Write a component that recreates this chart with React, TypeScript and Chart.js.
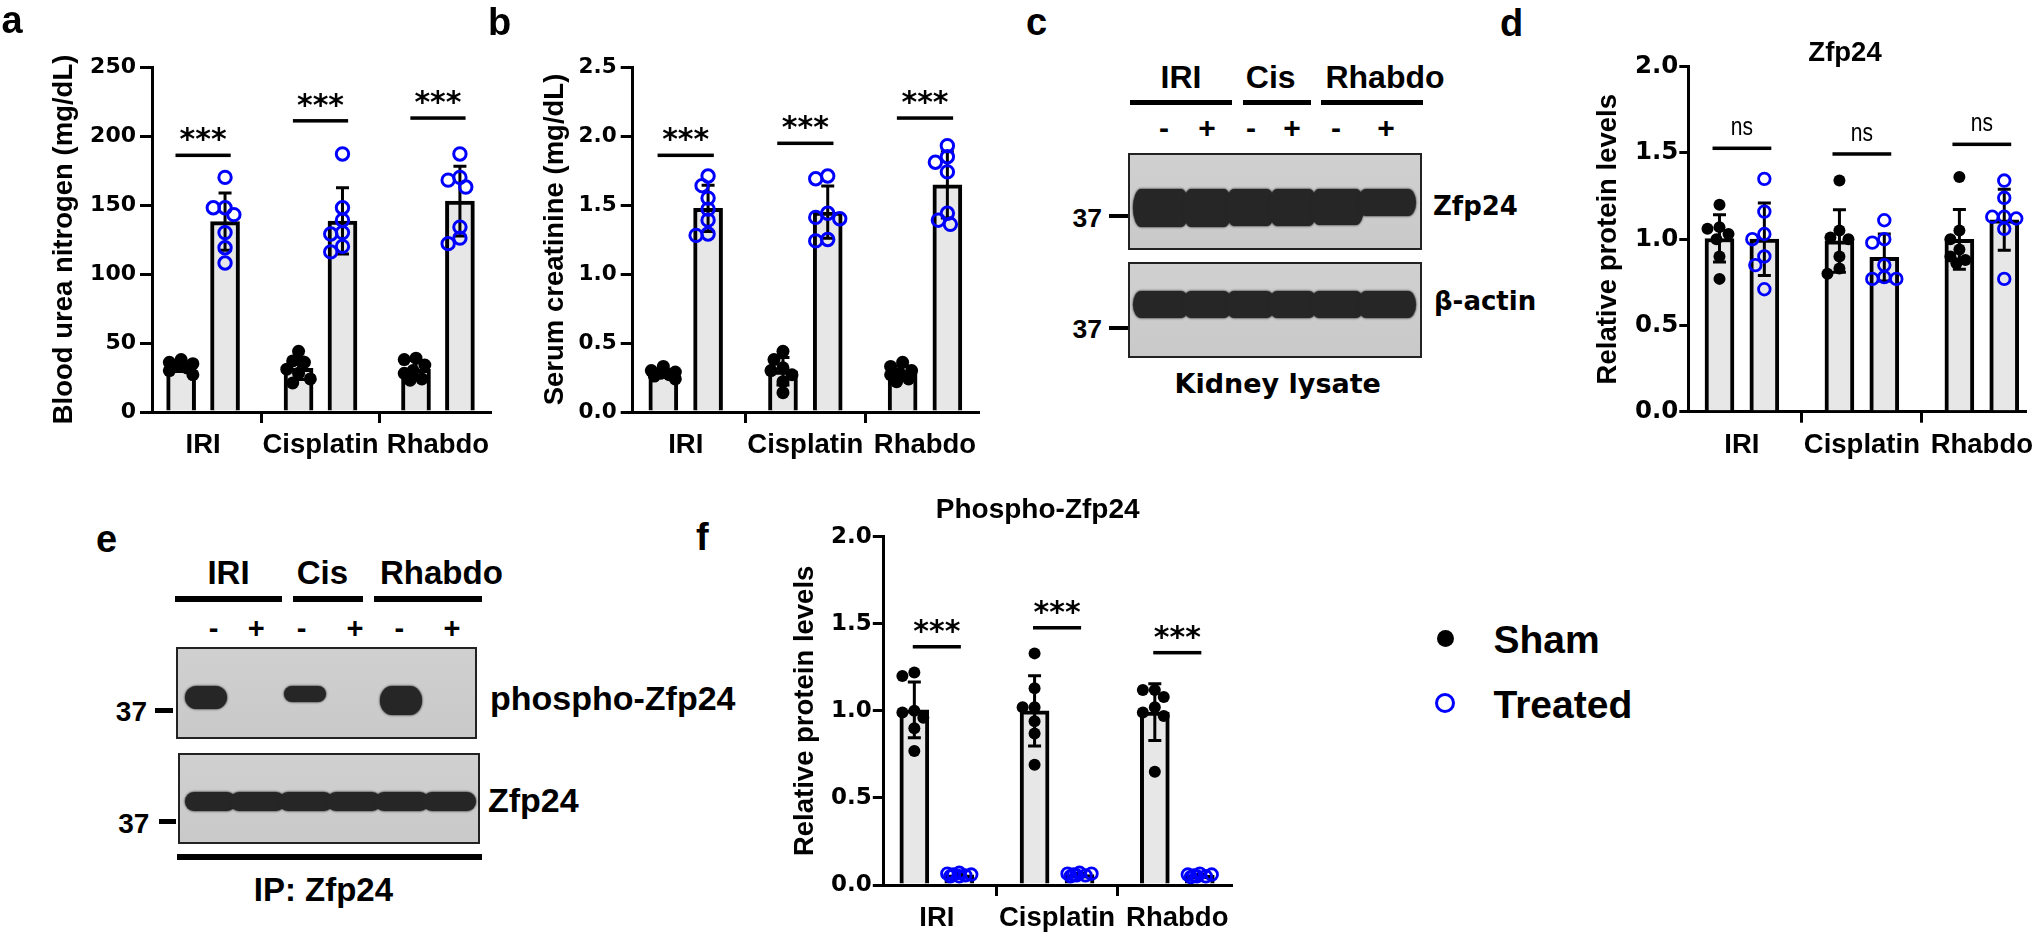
import React, { useEffect, useRef } from 'react';
import { Chart, registerables } from 'chart.js';

Chart.register(...registerables);

// ---------------- data ----------------
const categories = ['IRI', 'Cisplatin', 'Rhabdo'];
const seriesNames = ['Sham', 'Treated'];

// a: Blood urea nitrogen (mg/dL)
const bunSham = [
  [38, 36, 35, 33, 32, 30, 27],
  [44, 37, 36, 31, 28, 24, 21],
  [39, 38, 34, 30, 28, 24, 23],
];
const bunTreated = [
  [170, 148, 148, 143, 130, 119, 108],
  [187, 148, 139, 130, 129, 120, 116],
  [187, 170, 168, 163, 134, 126, 122],
];
const bunSig = [186, 211, 213];
const bunTicks = [0, 50, 100, 150, 200, 250];

// b: Serum creatinine (mg/dL)
const creatSham = [
  [0.33, 0.3, 0.29, 0.28, 0.27, 0.26, 0.24],
  [0.44, 0.38, 0.32, 0.3, 0.27, 0.22, 0.14],
  [0.36, 0.33, 0.3, 0.28, 0.27, 0.24, 0.22],
];
const creatTreated = [
  [1.71, 1.64, 1.55, 1.47, 1.39, 1.29, 1.28],
  [1.71, 1.69, 1.44, 1.41, 1.4, 1.25, 1.24],
  [1.93, 1.85, 1.81, 1.74, 1.44, 1.39, 1.36],
];
const creatSig = [1.86, 1.947, 2.13];
const creatTicks = [0, 0.5, 1, 1.5, 2, 2.5];

// d: Zfp24 relative protein levels
const zfpSham = [
  [1.2, 1.07, 1.06, 1.03, 1.0, 0.9, 0.77],
  [1.34, 1.05, 1.01, 1.0, 0.9, 0.83, 0.8],
  [1.36, 1.05, 1.0, 0.94, 0.9, 0.88, 0.86],
];
const zfpTreated = [
  [1.35, 1.16, 1.03, 1.0, 0.9, 0.85, 0.71],
  [1.11, 1.0, 0.98, 0.85, 0.78, 0.77, 0.77],
  [1.34, 1.24, 1.13, 1.13, 1.12, 1.06, 0.77],
];
const zfpSig = [1.527, 1.494, 1.55];

// f: Phospho-Zfp24 relative protein levels
const phosSham = [
  [1.22, 1.2, 1.0, 0.99, 0.96, 0.9, 0.77],
  [1.33, 1.13, 1.02, 1.02, 0.94, 0.87, 0.69],
  [1.12, 1.12, 1.08, 1.02, 0.99, 0.97, 0.65],
];
const phosTreated = [
  [0.07, 0.065, 0.06, 0.06, 0.055, 0.05, 0.05],
  [0.07, 0.065, 0.065, 0.06, 0.055, 0.055, 0.05],
  [0.065, 0.06, 0.06, 0.055, 0.05, 0.05, 0.045],
];
const phosSig = [1.368, 1.477, 1.334];
const relTicks = [0, 0.5, 1, 1.5, 2];

// western blots (relative band strength per lane)
const blotGroups = ['IRI', 'Cis', 'Rhabdo'];
const laneSigns = ['-', '+', '-', '+', '-', '+'];
const lysateZfp24 = [1, 1, 0.97, 0.97, 0.95, 0.72];
const lysateActin = [1, 1, 1, 1, 1, 1];
const ipPhospho = [1.05, 0, 0.75, 0, 1.3, 0];
const ipZfp24 = [1, 1, 1, 1, 1, 1];

// ---------------- helpers ----------------
const LIB = '"Liberation Sans", Arial, sans-serif';
const DJV = '"DejaVu Sans", sans-serif';
const BLUE = '#0000ff';
const BAR_OFF = 0.187;
const CAP = 6.5;

const mean = (a: number[]) => a.reduce((s, v) => s + v, 0) / a.length;
const sd = (a: number[]) => {
  const m = mean(a);
  return Math.sqrt(a.reduce((s, v) => s + (v - m) * (v - m), 0) / (a.length - 1));
};

function swarm(values: number[], pxY: number, minDist = 11, maxOff = 13, step = 3): number[] {
  const order = values.map((_, i) => i).sort((a, b) => values[b] - values[a]);
  const cands = [0];
  for (let k = step; k <= maxOff + 1e-9; k += step) cands.push(-k, k);
  const placed: { x: number; y: number }[] = [];
  const out = new Array(values.length).fill(0);
  for (const idx of order) {
    const yy = values[idx] * pxY;
    let best = 0;
    let bestScore = -Infinity;
    for (const c of cands) {
      let md = Infinity;
      for (const p of placed) md = Math.min(md, Math.hypot(p.x - c, p.y - yy));
      if (md >= minDist) { best = c; break; }
      if (md > bestScore) { bestScore = md; best = c; }
    }
    placed.push({ x: best, y: yy });
    out[idx] = best;
  }
  return out;
}

interface PanelCfg {
  box: number[];
  plot: number[];
  xRange: number[];
  yTicks: number[];
  decimals: number;
  yTitle: string;
  titlePad: number;
  tickSize: number;
  tickLen: number;
  tickPad: number;
  sham: number[][];
  treated: number[][];
  sig: number[];
  sigText: string;
  sigHalf: number;
  dotR: number;
  ringR: number;
  ringW: number;
}

function BarPanel({ cfg }: { cfg: PanelCfg }) {
  const ref = useRef<HTMLCanvasElement>(null);
  const [L, T, W, H] = cfg.box;
  useEffect(() => {
    const [pl, pr, pt, pb] = cfg.plot;
    const [xMin, xMax] = cfg.xRange;
    const yMax = cfg.yTicks[cfg.yTicks.length - 1];
    const pxX = (pr - pl) / (xMax - xMin);
    const pxY = (pb - pt) / yMax;
    const pts = (groups: number[][], side: number) =>
      groups.flatMap((vals, i) => {
        const offs = swarm(vals, pxY);
        return vals.map((v, k) => ({ x: i + side * BAR_OFF + offs[k] / pxX, y: v }));
      });
    const bars = (groups: number[][], side: number) =>
      groups.map((vals, i) => ({ x: i + side * BAR_OFF, y: mean(vals) }));

    const annot = {
      id: 'annot',
      afterDatasetDraw(chart: any, args: any) {
        if (args.meta.type !== 'bar') return;
        const groups = args.index === 0 ? cfg.sham : cfg.treated;
        const side = args.index === 0 ? -1 : 1;
        const { ctx } = chart;
        const xs = chart.scales.x;
        const ys = chart.scales.y;
        ctx.save();
        ctx.strokeStyle = '#000';
        ctx.lineWidth = 3;
        groups.forEach((vals, i) => {
          const m = mean(vals);
          const s = sd(vals);
          const px = xs.getPixelForValue(i + side * BAR_OFF);
          const y0 = ys.getPixelForValue(Math.max(0, m - s));
          const y1 = ys.getPixelForValue(m + s);
          ctx.beginPath();
          ctx.moveTo(px, y0); ctx.lineTo(px, y1);
          ctx.moveTo(px - CAP, y1); ctx.lineTo(px + CAP, y1);
          if (m - s > 0) { ctx.moveTo(px - CAP, y0); ctx.lineTo(px + CAP, y0); }
          ctx.stroke();
        });
        ctx.restore();
      },
      afterDatasetsDraw(chart: any) {
        const { ctx } = chart;
        const xs = chart.scales.x;
        const ys = chart.scales.y;
        const stars = cfg.sigText === '***';
        ctx.save();
        cfg.sig.forEach((h, i) => {
          const yp = ys.getPixelForValue(h);
          const x0 = xs.getPixelForValue(i - cfg.sigHalf);
          const x1 = xs.getPixelForValue(i + cfg.sigHalf);
          ctx.fillStyle = '#000';
          ctx.fillRect(x0, yp - 1.75, x1 - x0, 3.5);
          ctx.font = stars ? `bold 30px ${DJV}` : `normal 25px ${LIB}`;
          ctx.textAlign = 'center';
          ctx.textBaseline = 'alphabetic';
          const m = ctx.measureText(cfg.sigText);
          const inkBottom = yp - 13;
          const base = inkBottom - m.actualBoundingBoxDescent;
          ctx.save();
          ctx.translate((x0 + x1) / 2, base);
          ctx.scale(stars ? 1 : 0.84, 1);
          ctx.fillText(cfg.sigText, 0, 0);
          ctx.restore();
        });
        ctx.restore();
      },
    };

    const gridOpts = (len: number) => ({
      display: true,
      drawOnChartArea: false,
      drawTicks: true,
      tickLength: len,
      tickWidth: 3,
      tickColor: '#000',
      color: '#000',
      lineWidth: 3,
    });

    const barDs = (label: string, data: any[]) => ({
      type: 'bar', label, data, backgroundColor: '#e7e7e7', borderColor: '#000', borderWidth: 4,
      barThickness: 29, maxBarThickness: 29, grouped: false, order: 2,
    });

    const chart = new Chart(ref.current as HTMLCanvasElement, {
      type: 'bar',
      data: {
        datasets: [
          barDs(seriesNames[0], bars(cfg.sham, -1)) as any,
          barDs(seriesNames[1], bars(cfg.treated, 1)) as any,
          { type: 'scatter', label: seriesNames[0] + ' points', data: pts(cfg.sham, -1), pointRadius: cfg.dotR, pointBackgroundColor: '#000', pointBorderWidth: 0, pointBorderColor: '#000', clip: false, order: 1 } as any,
          { type: 'scatter', label: seriesNames[1] + ' points', data: pts(cfg.treated, 1), pointRadius: cfg.ringR, pointBackgroundColor: 'rgba(0,0,0,0)', pointBorderWidth: cfg.ringW, pointBorderColor: BLUE, clip: false, order: 1 } as any,
        ],
      },
      options: {
        responsive: false,
        animation: false,
        devicePixelRatio: 1,
        events: [],
        layout: { padding: { left: 0, top: pt - T, right: L + W - pr, bottom: 0 } },
        plugins: { legend: { display: false }, tooltip: { enabled: false } },
        scales: {
          x: {
            type: 'linear',
            position: 'bottom',
            min: xMin,
            max: xMax,
            offset: false,
            afterBuildTicks: (s: any) => { s.ticks = categories.map((_, i) => ({ value: i })); },
            afterFit: (s: any) => { s.height = T + H - pb; s.paddingLeft = 0; s.paddingRight = 0; },
            ticks: {
              autoSkip: false, maxRotation: 0, minRotation: 0, padding: 6, color: '#000',
              font: { family: LIB, size: 27.5, weight: 'bold' },
              callback: (v: any) => categories[Math.round(Number(v))] ?? '',
            },
            grid: gridOpts(11),
            border: { display: true, color: '#000', width: 3 },
          } as any,
          y: {
            type: 'linear',
            position: 'left',
            min: 0,
            max: yMax,
            afterBuildTicks: (s: any) => { s.ticks = cfg.yTicks.map((v) => ({ value: v })); },
            afterFit: (s: any) => { s.width = pl - L; s.paddingTop = 0; s.paddingBottom = 0; },
            ticks: {
              padding: cfg.tickPad, color: '#000',
              font: { family: DJV, size: cfg.tickSize, weight: 'bold' },
              callback: (v: any) => Number(v).toFixed(cfg.decimals),
            },
            grid: gridOpts(cfg.tickLen),
            border: { display: true, color: '#000', width: 3 },
            title: {
              display: true, text: cfg.yTitle, color: '#000',
              font: { family: LIB, size: 27.5, weight: 'bold' },
              padding: { top: cfg.titlePad, bottom: 0 },
            },
          } as any,
        },
      },
      plugins: [annot],
    });
    return () => chart.destroy();
  }, []);
  return (
    <canvas ref={ref} width={W} height={H}
      style={{ position: 'absolute', left: L, top: T, width: W, height: H }} />
  );
}

const panelA: PanelCfg = {
  box: [0, 0, 500, 470], plot: [152, 498, 67, 412], xRange: [-0.435, 2.45],
  yTicks: bunTicks, decimals: 0, yTitle: 'Blood urea nitrogen (mg/dL)', titlePad: 47.8,
  tickSize: 22, tickLen: 12, tickPad: 4, sham: bunSham, treated: bunTreated,
  sig: bunSig, sigText: '***', sigHalf: 0.235, dotR: 6.5, ringR: 6.2, ringW: 3,
};
const panelB: PanelCfg = {
  box: [500, 0, 490, 470], plot: [632.7, 978, 67, 412], xRange: [-0.443, 2.443],
  yTicks: creatTicks, decimals: 1, yTitle: 'Serum creatinine (mg/dL)', titlePad: 39,
  tickSize: 21.5, tickLen: 12, tickPad: 4, sham: creatSham, treated: creatTreated,
  sig: creatSig, sigText: '***', sigHalf: 0.235, dotR: 6.5, ringR: 6.2, ringW: 3,
};
const panelD: PanelCfg = {
  box: [1560, 0, 480, 470], plot: [1688.3, 2025, 66.7, 411.7], xRange: [-0.447, 2.36],
  yTicks: relTicks, decimals: 1, yTitle: 'Relative protein levels', titlePad: 32,
  tickSize: 24.5, tickLen: 9, tickPad: 1, sham: zfpSham, treated: zfpTreated,
  sig: zfpSig, sigText: 'ns', sigHalf: 0.245, dotR: 6, ringR: 5.8, ringW: 2.8,
};
const panelF: PanelCfg = {
  box: [760, 470, 480, 467], plot: [883.8, 1232.8, 536.7, 885], xRange: [-0.441, 2.45],
  yTicks: relTicks, decimals: 1, yTitle: 'Relative protein levels', titlePad: 28.5,
  tickSize: 23, tickLen: 11, tickPad: 1, sham: phosSham, treated: phosTreated,
  sig: phosSig, sigText: '***', sigHalf: 0.2, dotR: 6, ringR: 5.8, ringW: 2.8,
};

// ---------------- HTML primitives ----------------
function Txt(p: { x: number; y: number; size: number; text: string; family?: string; weight?: number; align?: 'left' | 'center' | 'right'; sx?: number }) {
  const { x, y, size, text, family = LIB, weight = 700, align = 'left', sx = 1 } = p;
  const tx = align === 'center' ? -50 : align === 'right' ? -100 : 0;
  const ox = align === 'center' ? '50%' : align === 'right' ? '100%' : '0';
  return (
    <div style={{
      position: 'absolute', left: x, top: y - 0.846 * size, fontFamily: family, fontWeight: weight,
      fontSize: size, lineHeight: `${size}px`, whiteSpace: 'pre', color: '#000',
      transform: `translateX(${tx}%) scaleX(${sx})`, transformOrigin: `${ox} 0`,
    }}>{text}</div>
  );
}

function Rect({ x0, y0, x1, y1, color = '#000' }: { x0: number; y0: number; x1: number; y1: number; color?: string }) {
  return <div style={{ position: 'absolute', left: x0, top: y0, width: x1 - x0, height: y1 - y0, background: color }} />;
}

function BlotBox({ x0, y0, x1, y1, children }: { x0: number; y0: number; x1: number; y1: number; children?: any }) {
  return (
    <div style={{
      position: 'absolute', left: x0, top: y0, width: x1 - x0, height: y1 - y0, boxSizing: 'border-box',
      border: '2px solid #222', background: 'linear-gradient(180deg,#d0d0d0,#c9c9c9)', overflow: 'hidden',
    }}>{children}</div>
  );
}

function Band({ x0, x1, y0, y1, r = 12 }: { x0: number; x1: number; y0: number; y1: number; r?: number }) {
  const h = y1 - y0;
  return (
    <div style={{
      position: 'absolute', left: x0, top: y0, width: x1 - x0, height: h, background: '#262626',
      borderRadius: `${Math.min(h / 2, r)}px / ${h / 2}px`, boxShadow: '0 0 2px 0.5px rgba(38,38,38,0.8)',
    }} />
  );
}

function laneBounds(lanes: number[], left: number, right: number) {
  return lanes.map((c, i) => [
    i === 0 ? left : (lanes[i - 1] + c) / 2 - 3,
    i === lanes.length - 1 ? right : (c + lanes[i + 1]) / 2 + 3,
  ]);
}

function BlotC() {
  const lanes = [1164, 1207, 1251, 1292, 1336, 1386];
  const box = { x0: 1128, x1: 1422 };
  const lb = laneBounds(lanes, 1133, 1416);
  const groupCenters = [1181, 1270.7, 1385];
  const underlines = [[1130, 1232], [1243, 1311], [1320.5, 1423]];
  return (
    <>
      {blotGroups.map((g, i) => <Txt key={g} x={groupCenters[i]} y={88} size={32} text={g} align="center" />)}
      {underlines.map((u, i) => <Rect key={i} x0={u[0]} x1={u[1]} y0={99.5} y1={104.5} />)}
      {laneSigns.map((s, i) => <Txt key={i} x={lanes[i]} y={138.5} size={30} text={s} align="center" />)}
      <BlotBox x0={box.x0} x1={box.x1} y0={153} y1={250}>
        {lysateZfp24.map((v, i) => v > 0 ? (
          <Band key={i} r={8} x0={lb[i][0] - box.x0 - 2} x1={lb[i][1] - box.x0 - 2} y0={189 - 155} y1={189 - 155 + 38 * v} />
        ) : null)}
      </BlotBox>
      <BlotBox x0={box.x0} x1={box.x1} y0={262} y1={358}>
        {lysateActin.map((v, i) => v > 0 ? (
          <Band key={i} r={8} x0={lb[i][0] - box.x0 - 2} x1={lb[i][1] - box.x0 - 2} y0={291 - 264} y1={291 - 264 + 27 * v} />
        ) : null)}
      </BlotBox>
      <Txt x={1102} y={227} size={26.5} text="37" align="right" />
      <Rect x0={1109} x1={1128} y0={214} y1={218} />
      <Txt x={1102} y={338} size={26.5} text="37" align="right" />
      <Rect x0={1109} x1={1128} y0={326} y1={330} />
      <Txt x={1433} y={215} size={26} text="Zfp24" family={DJV} />
      <Txt x={1434} y={310} size={26} text="β-actin" family={DJV} />
      <Txt x={1277.7} y={393} size={27} text="Kidney lysate" family={DJV} align="center" />
    </>
  );
}

function BlotE() {
  const signX = [213.5, 256.2, 301.7, 355, 399.3, 451.9];
  const lanes = [207, 259, 306, 354, 402, 451];
  const groupCenters = [228.5, 322.4, 441.4];
  const underlines = [[175, 282], [293, 363], [374, 481.6]];
  const b1 = { x0: 176, x1: 477, y0: 646.7, y1: 739.3 };
  const b2 = { x0: 178.3, x1: 480.4, y0: 752.7, y1: 844 };
  const lb2 = laneBounds(lanes, 185, 475.6);
  return (
    <>
      {blotGroups.map((g, i) => <Txt key={g} x={groupCenters[i]} y={584} size={33} text={g} align="center" />)}
      {underlines.map((u, i) => <Rect key={i} x0={u[0]} x1={u[1]} y0={596} y1={602} />)}
      {laneSigns.map((s, i) => <Txt key={i} x={signX[i]} y={638.5} size={29} text={s} align="center" />)}
      <BlotBox {...b1}>
        {ipPhospho.map((v, i) => v > 0 ? (
          <Band key={i} x0={lanes[i] - 22 - b1.x0 - 2} x1={lanes[i] + 20 - b1.x0 - 2} y0={686 - b1.y0 - 2} y1={686 - b1.y0 - 2 + 22 * v} />
        ) : null)}
      </BlotBox>
      <BlotBox {...b2}>
        {ipZfp24.map((v, i) => v > 0 ? (
          <Band key={i} r={9} x0={lb2[i][0] - b2.x0 - 2} x1={lb2[i][1] - b2.x0 - 2} y0={792 - b2.y0 - 2} y1={792 - b2.y0 - 2 + 19 * v} />
        ) : null)}
      </BlotBox>
      <Txt x={147} y={722} size={28} text="37" align="right" />
      <Rect x0={155} x1={173.3} y0={707.5} y1={712.5} />
      <Txt x={149.4} y={834} size={28} text="37" align="right" />
      <Rect x0={158.5} x1={176} y0={818.5} y1={823.5} />
      <Txt x={490} y={710} size={34} text="phospho-Zfp24" />
      <Txt x={488} y={812} size={34} text="Zfp24" />
      <Rect x0={177} x1={481.6} y0={853.7} y1={859.7} />
      <Txt x={323.4} y={901} size={33} text="IP: Zfp24" align="center" />
    </>
  );
}

export default function App() {
  useEffect(() => { document.body.style.margin = '0'; }, []);
  return (
    <div style={{ position: 'fixed', left: 0, top: 0, width: 2040, height: 937, background: '#fff', overflow: 'hidden' }}>
      <BarPanel cfg={panelA} />
      <BarPanel cfg={panelB} />
      <BarPanel cfg={panelD} />
      <BarPanel cfg={panelF} />
      <BlotC />
      <BlotE />
      {/* panel letters */}
      <Txt x={1.5} y={33.5} size={38} text="a" />
      <Txt x={488} y={35} size={38} text="b" />
      <Txt x={1026} y={35} size={38} text="c" />
      <Txt x={1500} y={36} size={38} text="d" />
      <Txt x={96} y={552} size={38} text="e" />
      <Txt x={696} y={550} size={38} text="f" />
      {/* chart titles */}
      <Txt x={1845} y={61} size={27.5} text="Zfp24" align="center" />
      <Txt x={1037.7} y={519} size={28} text="Phospho-Zfp24" align="center" />
      {/* legend */}
      <div style={{ position: 'absolute', left: 1445 - 8.5, top: 638.3 - 8.5, width: 17, height: 17, borderRadius: '50%', background: '#000' }} />
      <div style={{ position: 'absolute', left: 1445 - 10, top: 703.3 - 10, width: 20, height: 20, borderRadius: '50%', border: `3.5px solid ${BLUE}`, boxSizing: 'border-box' }} />
      <Txt x={1493.5} y={653} size={39} text={seriesNames[0]} />
      <Txt x={1493.5} y={718} size={39} text={seriesNames[1]} />
    </div>
  );
}
